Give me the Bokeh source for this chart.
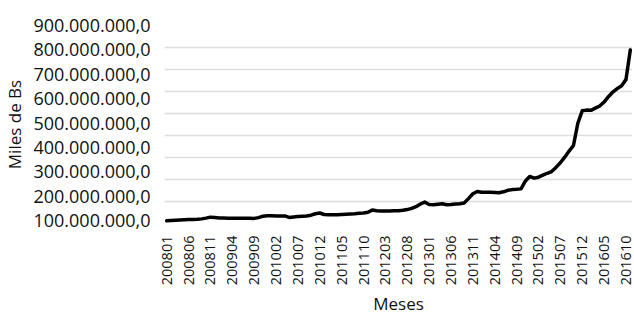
import math
from bokeh.plotting import figure
from bokeh.models import Range1d, FixedTicker, Grid, ColumnDataSource
from bokeh.embed import file_html
from bokeh.resources import INLINE

# Categories: months 200801 .. 201611
months = [f"{y}{m:02d}" for y in range(2008, 2017) for m in range(1, 13)][:107]

# Series values, in millions of "Miles de Bs"
liquidez_millones = [
    99, 100, 101, 102, 103, 104, 104, 105, 107, 110, 114, 113,      # 2008
    111, 111, 110, 110, 110, 110, 110, 110, 109, 112, 118, 120,     # 2009
    120, 119, 119, 119, 113, 115, 117, 118, 119, 122, 128, 131,     # 2010
    125, 124, 124, 124, 125, 126, 127, 128, 130, 131, 134, 143,     # 2011
    140, 139, 139, 139, 140, 140, 142, 145, 150, 157, 168, 176,     # 2012
    166, 165, 167, 169, 165, 166, 168, 169, 172, 190, 210, 219,     # 2013
    216, 216, 216, 215, 214, 218, 224, 227, 228, 230, 262, 281,     # 2014
    274, 278, 286, 294, 301, 318, 337, 360, 385, 408, 499, 550,     # 2015
    553, 552, 561, 570, 586, 608, 627, 641, 653, 678, 800,          # 2016
]

x_tick_labels = ["200801", "200806", "200811", "200904", "200909", "201002",
                 "201007", "201012", "201105", "201110", "201203", "201208",
                 "201301", "201306", "201311", "201404", "201409", "201502",
                 "201507", "201512", "201605", "201610"]

y_ticks = [100000000, 200000000, 300000000, 400000000, 500000000,
           600000000, 700000000, 800000000, 900000000]
y_tick_labels = ["100.000.000,0", "200.000.000,0", "300.000.000,0",
                 "400.000.000,0", "500.000.000,0", "600.000.000,0",
                 "700.000.000,0", "800.000.000,0", "900.000.000,0"]
grid_values = [100000000, 200000000, 300000000, 400000000, 500000000,
               600000000, 700000000, 800000000, 900000000]

FONT = "Open Sans"
TXT = "#111111"

src = ColumnDataSource(data=dict(
    x=list(range(len(months))),
    y=[v * 1e6 for v in liquidez_millones],
    mes=months,
))

p = figure(width=634, height=318, output_backend="svg", toolbar_location=None,
           x_range=Range1d(-0.5, len(months) - 0.5),
           y_range=Range1d(88e6, 900e6),
           min_border_left=163, min_border_right=2,
           min_border_top=25, min_border_bottom=93)
p.extra_y_ranges = {"grid": Range1d(0, 900e6)}
p.outline_line_color = None
p.background_fill_color = "white"
p.border_fill_color = "white"
p.xgrid.visible = False
p.ygrid.visible = False

g = Grid(dimension=1, ticker=FixedTicker(ticks=grid_values), y_range_name="grid",
         grid_line_color="#dddddd", grid_line_width=1.5)
p.add_layout(g)

p.line(x="x", y="y", source=src, line_color="black", line_width=3.5,
       line_join="round", line_cap="round")

# y axis
ya = p.yaxis[0]
ya.ticker = FixedTicker(ticks=y_ticks)
ya.major_label_overrides = dict(zip(y_ticks, y_tick_labels))
ya.axis_line_color = None
ya.major_tick_line_color = None
ya.minor_tick_line_color = None
ya.major_tick_out = 0
ya.major_label_standoff = 14
ya.major_label_text_font = FONT
ya.major_label_text_font_size = "18px"
ya.major_label_text_color = TXT
ya.axis_label = "Miles de Bs"
ya.axis_label_text_font = FONT
ya.axis_label_text_font_size = "17px"
ya.axis_label_text_font_style = "normal"
ya.axis_label_text_color = TXT
ya.axis_label_standoff = 4

# x axis
xa = p.xaxis[0]
xa.ticker = FixedTicker(ticks=[months.index(l) for l in x_tick_labels])
xa.major_label_overrides = {months.index(l): l for l in x_tick_labels}
xa.major_label_orientation = math.pi / 2
xa.axis_line_color = None
xa.major_tick_line_color = None
xa.minor_tick_line_color = None
xa.major_tick_out = 0
xa.major_label_standoff = 12
xa.major_label_text_font = FONT
xa.major_label_text_font_size = "14.5px"
xa.major_label_text_color = TXT
xa.axis_label = "Meses"
xa.axis_label_text_font = FONT
xa.axis_label_text_font_size = "17px"
xa.axis_label_text_font_style = "normal"
xa.axis_label_text_color = TXT
xa.axis_label_standoff = 4

open("out.html", "w").write(file_html(p, INLINE))
